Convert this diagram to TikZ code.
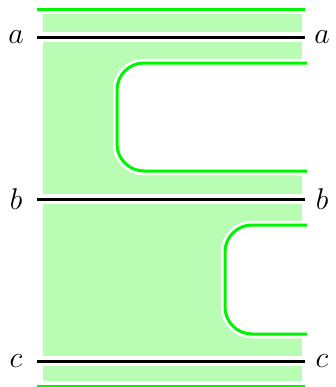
\documentclass[tikz,border=0pt]{standalone}
\usepackage{tikz}
\definecolor{sheet}{RGB}{185,252,180}
\definecolor{rimcol}{RGB}{0,245,0}
\tikzset{
  cut/.style={draw=black,line width=1.2pt},
  rim/.style={draw=rimcol,line width=1.2pt},
  halo/.style={draw=white,line width=3.4pt},
  lbl/.style={font=\large,inner sep=0pt},
}

\begin{document}
\begin{tikzpicture}[x=0.4pt,y=-0.4pt]
  \useasboundingbox (0,0) rectangle (335,387);
  % green sheet between the cuts
  \fill[sheet] (43,14) rectangle (302,32);
  \fill[sheet] (43,42) rectangle (302,194);
  \fill[sheet] (43,204) rectangle (302,356);
  \fill[sheet] (43,366) rectangle (302,381);
  % the two slots
  \foreach \xl/\yt/\yb in {117/63/171,225/225/334}{
    \fill[white,rounded corners=10.8pt] (330,\yt) -- (\xl,\yt) -- (\xl,\yb) -- (330,\yb) -- cycle;
    \draw[halo,rounded corners=10.8pt] (307,\yt) -- (\xl,\yt) -- (\xl,\yb) -- (307,\yb);
    \draw[rim,rounded corners=10.8pt] (307,\yt) -- (\xl,\yt) -- (\xl,\yb) -- (307,\yb);
  }
  % outer edges
  \coordinate (topW) at (37,9);
  \coordinate (topE) at (305,9);
  \coordinate (botW) at (37,386);
  \coordinate (botE) at (305,386);
  \draw[rim] (topW) -- (topE);
  \draw[rim] (botW) -- (botE);
  % cuts a, b, c
  \foreach \n/\y in {a/37,b/199,c/361}{
    \node[lbl] (\n L) at (16,\y) {$\n$};
    \node[lbl] (\n R) at (322,\y) {$\n$};
    \coordinate (\n W) at (37,\y);
    \coordinate (\n E) at (305,\y);
    \draw[cut] (\n W) -- (\n E);
  }
\end{tikzpicture}
\end{document}
